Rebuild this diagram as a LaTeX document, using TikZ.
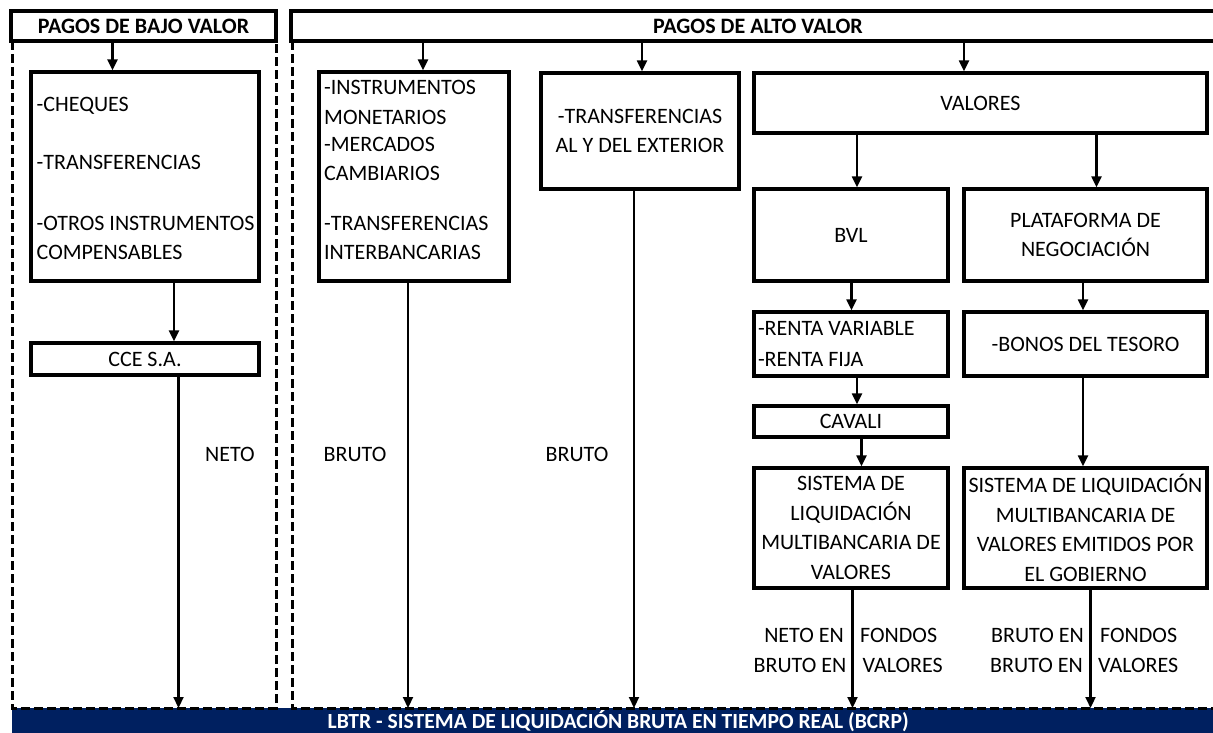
\documentclass[tikz,border=0pt]{standalone}
\usepackage{fontspec}
\setmainfont{Carlito}
\usetikzlibrary{arrows.meta}
\definecolor{navyblue}{HTML}{002060}
\newcommand{\boxfont}{\fontsize{22}{29.5}\selectfont}
\begin{document}
\begin{tikzpicture}[x=1pt,y=-1pt,
  box/.style={draw, line width=3.3pt, inner sep=0pt, font=\boxfont, align=center},
  hdr/.style={draw, line width=3.3pt, inner sep=0pt, font=\boxfont\bfseries},
  txt/.style={font=\boxfont, inner sep=0pt},
  arr/.style={line width=2.2pt, -{Triangle[length=11pt,width=10pt]}},
  pnl/.style={line width=3pt, dash pattern=on 9pt off 4pt},
]
\useasboundingbox (0,0) rectangle (1213,733);
\clip (0,0) rectangle (1213,733);

% bottom bar
\node[fill=navyblue, text=white, font=\fontsize{21.6}{26}\selectfont\bfseries, inner sep=0pt,
      minimum width=1212pt, minimum height=26pt, text height=14pt, text depth=0pt,
      anchor=north west] (lbtr) at (12,708)
      {LBTR - SISTEMA DE LIQUIDACIÓN BRUTA EN TIEMPO REAL (BCRP)};

% headers
\node[hdr, minimum width=265pt, minimum height=30pt] (hdrL) at (143.5,26) {PAGOS DE BAJO VALOR};
\node[hdr, minimum width=934pt, minimum height=30pt] (hdrR) at (758,26) {PAGOS DE ALTO VALOR};

% dashed panels
\draw[pnl] (12,41) -- (12,708) -- (276,708) -- (276,41);
\draw[pnl] (292,41) -- (292,708) -- (1215,708);

% left panel
\node[box, minimum width=228pt, minimum height=209pt] (cheq) at (145,176.5) {};
\node[txt, anchor=base west] (cheqa) at (36.5,111.7) {-CHEQUES};
\node[txt, anchor=base west] (cheqb) at (36.5,170) {-TRANSFERENCIAS};
\node[txt, anchor=base west] (cheqc) at (36.5,230) {-OTROS INSTRUMENTOS};
\node[txt, anchor=base west] (cheqd) at (36.5,259) {COMPENSABLES};
\node[box, minimum width=228pt, minimum height=32pt] (cce) at (145,359) {CCE S.A.};

% right panel
\node[box, minimum width=190pt, minimum height=209pt] (instr) at (414,176.5) {};
\node[txt, anchor=base west] (instra) at (324,95) {-INSTRUMENTOS};
\node[txt, anchor=base west] (instrb) at (324,125) {MONETARIOS};
\node[txt, anchor=base west] (instrc) at (324,152) {-MERCADOS};
\node[txt, anchor=base west] (instrd) at (324,181) {CAMBIARIOS};
\node[txt, anchor=base west] (instre) at (324,230) {-TRANSFERENCIAS};
\node[txt, anchor=base west] (instrf) at (324,259) {INTERBANCARIAS};

\node[box, minimum width=198pt, minimum height=116pt] (transf) at (640,131) {-TRANSFERENCIAS\\AL Y DEL EXTERIOR};
\node[box, minimum width=453pt, minimum height=60pt] (val) at (980.5,103) {VALORES};
\node[box, minimum width=194pt, minimum height=92pt] (bvl) at (851,235) {BVL};
\node[box, minimum width=243pt, minimum height=92pt] (plat) at (1085.5,235) {PLATAFORMA DE\\NEGOCIACIÓN};
\node[box, minimum width=194pt, minimum height=64pt, align=flush left, text width=186pt] (renta) at (851,344) {-RENTA VARIABLE\\[1.5pt]-RENTA FIJA};
\node[box, minimum width=243pt, minimum height=64pt] (bonos) at (1085.5,344) {-BONOS DEL TESORO};
\node[box, minimum width=194pt, minimum height=31pt] (cav) at (851,421.5) {CAVALI};
\node[box, minimum width=194pt, minimum height=120pt] (slm) at (851,528) {SISTEMA DE\\LIQUIDACIÓN\\MULTIBANCARIA DE\\VALORES};
\node[box, minimum width=243pt, minimum height=120pt] (slmg) at (1085.5,528) {SISTEMA DE LIQUIDACIÓN\\MULTIBANCARIA DE\\VALORES EMITIDOS POR\\EL GOBIERNO};

% labels
\node[txt, anchor=base] (neto) at (230,461) {NETO};
\node[txt, anchor=base] (brutoa) at (355,461) {BRUTO};
\node[txt, anchor=base] (brutob) at (577,461) {BRUTO};
\node[txt, anchor=base east] (la) at (844,642.5) {NETO EN};
\node[txt, anchor=base west] (lb) at (860,642.5) {FONDOS};
\node[txt, anchor=base east] (lc) at (846.5,672) {BRUTO EN};
\node[txt, anchor=base west] (ld) at (862.5,672) {VALORES};
\node[txt, anchor=base east] (ra) at (1084,642.5) {BRUTO EN};
\node[txt, anchor=base west] (rb) at (1100,642.5) {FONDOS};
\node[txt, anchor=base east] (rc) at (1083,672) {BRUTO EN};
\node[txt, anchor=base west] (rd) at (1098,672) {VALORES};

% connector x positions
\coordinate (xa) at (112.5,0);
\coordinate (xb) at (174,0);
\coordinate (xc) at (178.5,0);
\coordinate (xd) at (423,0);
\coordinate (xe) at (408,0);
\coordinate (xf) at (642,0);
\coordinate (xg) at (634,0);
\coordinate (xh) at (964,0);
\coordinate (xi) at (857,0);
\coordinate (xj) at (1096.5,0);
\coordinate (xk) at (851.5,0);
\coordinate (xl) at (1083,0);
\coordinate (xm) at (857,0);
\coordinate (xn) at (861.5,0);
\coordinate (xo) at (1083,0);
\coordinate (xp) at (852.5,0);
\coordinate (xq) at (1090.5,0);

% connectors
\draw[arr] (hdrL.south -| xa) -- (cheq.north -| xa);
\draw[arr] (cheq.south -| xb) -- (cce.north -| xb);
\draw[arr] (cce.south -| xc) -- (lbtr.north -| xc);
\draw[arr] (hdrR.south -| xd) -- (instr.north -| xd);
\draw[arr] (instr.south -| xe) -- (lbtr.north -| xe);
\draw[arr] (hdrR.south -| xf) -- (transf.north -| xf);
\draw[arr] (transf.south -| xg) -- (lbtr.north -| xg);
\draw[arr] (hdrR.south -| xh) -- (val.north -| xh);
\draw[arr] (val.south -| xi) -- (bvl.north -| xi);
\draw[arr] (val.south -| xj) -- (plat.north -| xj);
\draw[arr] (bvl.south -| xk) -- (renta.north -| xk);
\draw[arr] (plat.south -| xl) -- (bonos.north -| xl);
\draw[arr] (renta.south -| xm) -- (cav.north -| xm);
\draw[arr] (cav.south -| xn) -- (slm.north -| xn);
\draw[arr] (bonos.south -| xo) -- (slmg.north -| xo);
\draw[arr] (slm.south -| xp) -- (lbtr.north -| xp);
\draw[arr] (slmg.south -| xq) -- (lbtr.north -| xq);
\end{tikzpicture}
\end{document}
